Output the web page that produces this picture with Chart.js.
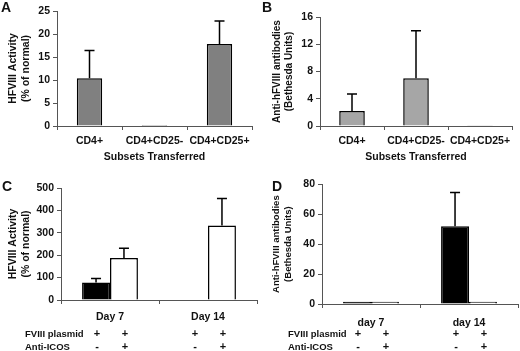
<!DOCTYPE html>
<html>
<head>
<meta charset="utf-8">
<script src="https://cdn.jsdelivr.net/npm/chart.js@4.4.1/dist/chart.umd.min.js"></script>
<style>
  body { margin: 0; background: #fff; width: 520px; height: 351px; position: relative; overflow: hidden; }
  canvas { position: absolute; }
</style>
</head>
<body>
<canvas id="chartA" width="260" height="175" style="left:0;top:0"></canvas>
<canvas id="chartB" width="260" height="175" style="left:260px;top:0"></canvas>
<canvas id="chartC" width="260" height="176" style="left:0;top:175px"></canvas>
<canvas id="chartD" width="260" height="176" style="left:260px;top:175px"></canvas>
<script>
// Panel A / B: subsets transferred
const subsets = ['CD4+', 'CD4+CD25-', 'CD4+CD25+'];
const activityA = [10.4, 0.2, 17.8];
const activityAErr = [6.0, 0, 5.0];
const antibodyB = [2.2, 7.0, 0.1];
const antibodyBErr = [2.5, 7.0, 0];

// Panel C / D: day 7 and day 14, plasmid alone vs plasmid + anti-ICOS
const daysC = ['Day 7', 'Day 14'];
const daysD = ['day 7', 'day 14'];
const activityPlasmid = [78, 2];
const activityPlasmidErr = [18, 0];
const activityIcos = [188, 333];
const activityIcosErr = [43, 120];
const antibodyPlasmid = [1.5, 52];
const antibodyPlasmidErr = [0, 22.5];
const antibodyIcos = [1.5, 1.5];
const antibodyIcosErr = [0, 0];

// treatment rows under C and D (one sign per dataset)
const rowLabels = ['FVIII plasmid', 'Anti-ICOS'];
const plasmidSigns = ['+', '+'];
const icosSigns = ['-', '+'];

const textColor = '#111';
const axisColor = '#555';
const family = '"Liberation Sans", Arial, sans-serif';
const boldFont = { family: family, size: 10.5, weight: 700 };

// draws upward error bars with a cap
const errorBarPlugin = {
    id: 'errorBars',
    afterDatasetsDraw(chart) {
        const ctx = chart.ctx;
        const yScale = chart.scales.y;
        chart.data.datasets.forEach((ds, i) => {
            if (!ds.errors) return;
            const meta = chart.getDatasetMeta(i);
            meta.data.forEach((bar, j) => {
                const err = ds.errors[j];
                if (!err) return;
                const yTop = yScale.getPixelForValue(ds.data[j] + err);
                ctx.save();
                ctx.strokeStyle = '#000';
                ctx.lineWidth = 1.5;
                ctx.beginPath();
                ctx.moveTo(bar.x, bar.y);
                ctx.lineTo(bar.x, yTop);
                ctx.moveTo(bar.x - 5, yTop);
                ctx.lineTo(bar.x + 5, yTop);
                ctx.stroke();
                ctx.restore();
            });
        });
    }
};

// panel letter and optional +/- rows
const annotatePlugin = {
    id: 'annotate',
    afterDraw(chart, args, opts) {
        const ctx = chart.ctx;
        ctx.save();
        ctx.fillStyle = textColor;
        ctx.font = 'bold 14px ' + family;
        ctx.textBaseline = 'top';
        ctx.fillText(opts.letter, opts.letterX, opts.letterY);
        if (opts.rows) {
            ctx.textBaseline = 'middle';
            opts.rows.forEach((row, r) => {
                ctx.font = 'bold 9.5px ' + family;
                ctx.textAlign = 'left';
                ctx.fillText(rowLabels[r], opts.rowLabelX, opts.rowY[r]);
                ctx.textAlign = 'center';
                ctx.font = 'bold 11px ' + family;
                chart.data.datasets.forEach((ds, d) => {
                    chart.getDatasetMeta(d).data.forEach(bar => {
                        ctx.fillText(row[d], bar.x + 1, opts.rowY[r]);
                    });
                });
            });
        }
        ctx.restore();
    }
};

function makeOptions(p) {
    return {
        responsive: false,
        animation: false,
        layout: { padding: { top: p.top, right: p.right, left: 0, bottom: 0 } },
        plugins: {
            legend: { display: false },
            tooltip: { enabled: false },
            annotate: p.annotate
        },
        scales: {
            x: {
                grid: { drawOnChartArea: false, tickLength: 4, color: axisColor, offset: true },
                border: { color: axisColor, width: 1 },
                ticks: { color: textColor, font: boldFont, padding: p.xPad, maxRotation: 0, autoSkip: false },
                title: p.xTitle
                    ? { display: true, text: p.xTitle, color: textColor, font: boldFont, padding: { top: 0, bottom: 12 } }
                    : { display: false },
                afterFit: s => { s.height = p.xHeight; }
            },
            y: {
                min: 0,
                max: p.max,
                ticks: { stepSize: p.step, color: textColor, font: boldFont, padding: 3 },
                grid: { drawOnChartArea: false, tickLength: 4, color: axisColor },
                border: { color: axisColor, width: 1 },
                title: {
                    display: true, text: p.yTitle, color: textColor,
                    font: { family: family, size: p.yTitleSize, weight: 700 },
                    padding: { top: p.yTitlePad, bottom: 0 }
                },
                afterFit: s => { s.width = p.yWidth; }
            }
        }
    };
}

const activityTitle = ['HFVIII Activity', '(% of normal)'];
const antibodyTitle = ['Anti-hFVIII antibodies', '(Bethesda Units)'];

new Chart(document.getElementById('chartA'), {
    type: 'bar',
    data: {
        labels: subsets,
        datasets: [{
            data: activityA, errors: activityAErr,
            backgroundColor: '#808080', borderColor: '#000', borderWidth: 1.5,
            categoryPercentage: 1, barPercentage: 0.39
        }]
    },
    options: makeOptions({
        top: 11, right: 8, xHeight: 49, xPad: 5, yWidth: 57, max: 25, step: 5,
        yTitle: activityTitle, yTitleSize: 10.5, yTitlePad: 7, xTitle: 'Subsets Transferred',
        annotate: { letter: 'A', letterX: 1, letterY: 1 }
    }),
    plugins: [errorBarPlugin, annotatePlugin]
});

new Chart(document.getElementById('chartB'), {
    type: 'bar',
    data: {
        labels: subsets,
        datasets: [{
            data: antibodyB, errors: antibodyBErr,
            backgroundColor: '#a6a6a6', borderColor: '#000', borderWidth: 1.5,
            categoryPercentage: 1, barPercentage: 0.4
        }]
    },
    options: makeOptions({
        top: 17, right: 8, xHeight: 49, xPad: 5, yWidth: 60, max: 16, step: 4,
        yTitle: antibodyTitle, yTitleSize: 10, yTitlePad: 11, xTitle: 'Subsets Transferred',
        annotate: { letter: 'B', letterX: 2, letterY: 1 }
    }),
    plugins: [errorBarPlugin, annotatePlugin]
});

new Chart(document.getElementById('chartC'), {
    type: 'bar',
    data: {
        labels: daysC,
        datasets: [
            { data: activityPlasmid, errors: activityPlasmidErr, backgroundColor: '#000', borderColor: '#000', borderWidth: 1.5, categoryPercentage: 0.57, barPercentage: 1 },
            { data: activityIcos, errors: activityIcosErr, backgroundColor: '#fff', borderColor: '#000', borderWidth: 1.5, categoryPercentage: 0.57, barPercentage: 1 }
        ]
    },
    options: makeOptions({
        top: 13, right: 3, xHeight: 51, xPad: 7, yWidth: 61, max: 500, step: 100,
        yTitle: activityTitle, yTitleSize: 10.5, yTitlePad: 7,
        annotate: { letter: 'C', letterX: 2, letterY: 5, rows: [plasmidSigns, icosSigns], rowLabelX: 25, rowY: [159, 172] }
    }),
    plugins: [errorBarPlugin, annotatePlugin]
});

new Chart(document.getElementById('chartD'), {
    type: 'bar',
    data: {
        labels: daysD,
        datasets: [
            { data: antibodyPlasmid, errors: antibodyPlasmidErr, backgroundColor: '#000', borderColor: '#000', borderWidth: 1.5, categoryPercentage: 0.57, barPercentage: 1 },
            { data: antibodyIcos, errors: antibodyIcosErr, backgroundColor: '#fff', borderColor: '#000', borderWidth: 1.5, categoryPercentage: 0.57, barPercentage: 1 }
        ]
    },
    options: makeOptions({
        top: 9, right: 2, xHeight: 47, xPad: 9, yWidth: 62, max: 80, step: 20,
        yTitle: antibodyTitle, yTitleSize: 9.5, yTitlePad: 11,
        annotate: { letter: 'D', letterX: 12, letterY: 5, rows: [plasmidSigns, icosSigns], rowLabelX: 28, rowY: [159, 172] }
    }),
    plugins: [errorBarPlugin, annotatePlugin]
});
</script>
</body>
</html>
